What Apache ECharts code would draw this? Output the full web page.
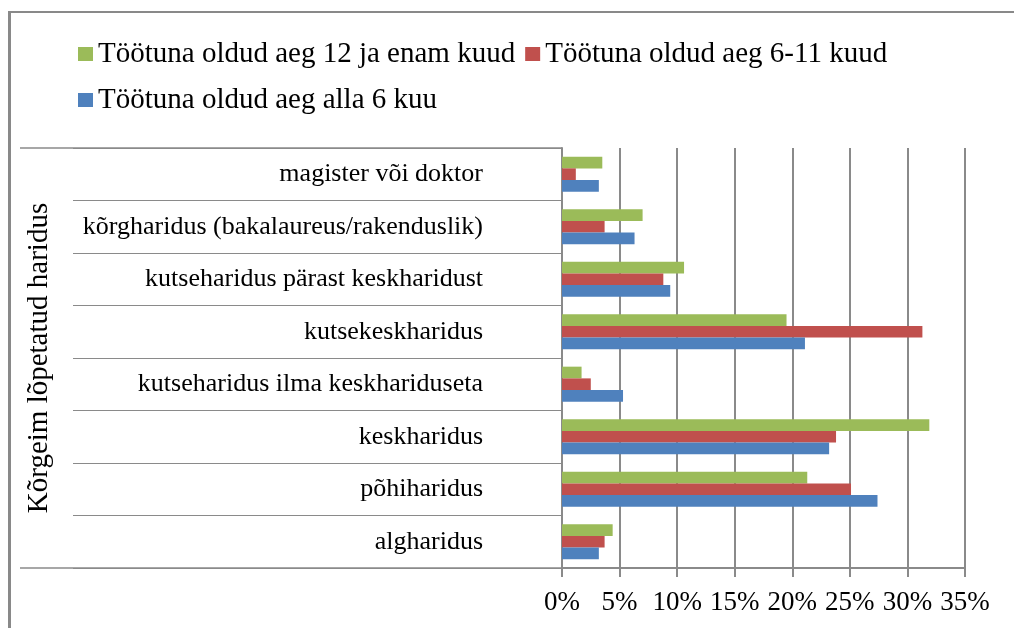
<!DOCTYPE html>
<html>
<head>
<meta charset="utf-8">
<script src="https://cdn.jsdelivr.net/npm/echarts@6/dist/echarts.min.js"></script>
<style>
  html, body { margin: 0; padding: 0; background: #fff; }
  #frame { position: absolute; left: 8px; top: 11px; width: 1006px; height: 617px;
           border-left: 3px solid #898989; border-top: 2px solid #898989; box-sizing: border-box; }
  #chart { position: absolute; left: 0; top: 0; width: 1014px; height: 628px; }
</style>
</head>
<body>
<div id="frame"></div>
<div id="chart"></div>
<script>
// kategooriad alt üles
var categories = ['algharidus', 'põhiharidus', 'keskharidus', 'kutseharidus ilma keskhariduseta',
  'kutsekeskharidus', 'kutseharidus pärast keskharidust', 'kõrgharidus (bakalaureus/rakenduslik)',
  'magister või doktor'];
var alla6 = [3.2, 27.4, 23.2, 5.3, 21.1, 9.4, 6.3, 3.2];
var kuud6_11 = [3.7, 25.1, 23.8, 2.5, 31.3, 8.8, 3.7, 1.2];
var kuud12 = [4.4, 21.3, 31.9, 1.7, 19.5, 10.6, 7.0, 3.5];
var names = ['Töötuna oldud aeg alla 6 kuu', 'Töötuna oldud aeg 6-11 kuud', 'Töötuna oldud aeg 12 ja enam kuud'];
var xTicks = [0, 5, 10, 15, 20, 25, 30, 35];

var font = '"Liberation Serif", "Times New Roman", serif';
var gray = '#8a8a8a';

var option = {
  animation: false,
  textStyle: { fontFamily: font },
  legend: {
    data: [names[2], names[1], names[0]],
    left: 73, top: 31, width: 860,
    icon: 'rect', itemWidth: 15, itemHeight: 14, itemGap: 10,
    textStyle: { fontFamily: font, fontSize: 29, color: '#000', lineHeight: 36 }
  },
  grid: { left: 562, right: 49, top: 148, bottom: 60 },
  xAxis: {
    type: 'value', min: xTicks[0], max: xTicks[xTicks.length - 1], interval: 5,
    axisLine: { show: true, lineStyle: { color: gray, width: 2 } },
    axisTick: { show: true, length: 9, lineStyle: { color: gray, width: 2 } },
    axisLabel: { formatter: '{value}%', fontSize: 27, color: '#000', margin: 21, fontFamily: font },
    splitLine: { show: true, lineStyle: { color: gray, width: 2 } }
  },
  yAxis: [{
    type: 'category', data: categories,
    name: 'Kõrgeim lõpetatud haridus', nameLocation: 'middle', nameRotate: 90, nameGap: 508,
    nameTextStyle: { fontFamily: font, fontSize: 29, color: '#000' },
    axisLine: { show: true, lineStyle: { color: gray, width: 2 } },
    axisTick: { show: true, length: 489, lineStyle: { color: gray, width: 1 } },
    axisLabel: { fontSize: 26, color: '#000', margin: 79, fontFamily: font }
  }, {
    // pikad ülemine ja alumine joon
    type: 'category', data: [''], position: 'left',
    axisLine: { show: false },
    splitLine: { show: false },
    axisTick: { show: true, length: 542, lineStyle: { color: gray, width: 1.5 } },
    axisLabel: { show: false }
  }],
  series: [
    { name: names[2], type: 'bar', data: kuud12, itemStyle: { color: '#9BBB59' }, barGap: '0%', barCategoryGap: '33%' },
    { name: names[1], type: 'bar', data: kuud6_11, itemStyle: { color: '#C0504D' }, barGap: '0%', barCategoryGap: '33%' },
    { name: names[0], type: 'bar', data: alla6, itemStyle: { color: '#4F81BD' }, barGap: '0%', barCategoryGap: '33%' }
  ]
};

var myChart = echarts.init(document.getElementById('chart'));
myChart.setOption(option);
</script>
</body>
</html>
